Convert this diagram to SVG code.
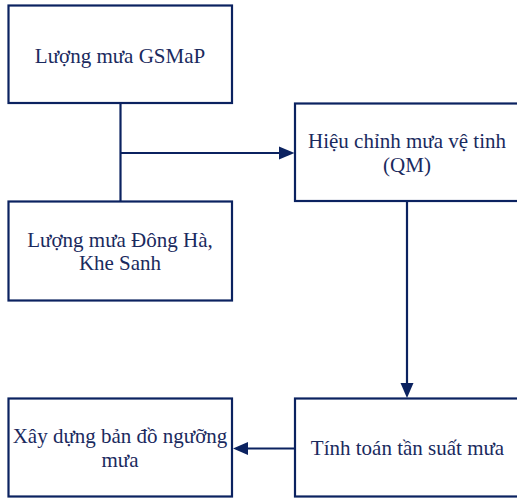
<svg xmlns="http://www.w3.org/2000/svg" width="517" height="499" viewBox="0 0 517 499">
<style>
.box{fill:#fff;stroke:#0b2260;stroke-width:2.2}
.ln{fill:none;stroke:#0b2260;stroke-width:2.2}
.ah{fill:#0b2260}
text{font-family:"Liberation Serif","Times New Roman",serif;font-size:21px;fill:#1a2a5e;text-anchor:middle}
</style>
<rect width="517" height="499" fill="#fff"/>
<g id="connectors">
<path class="ln" d="M120.5,103 V201"/>
<path class="ln" d="M120.5,153 H280"/>
<polygon class="ah" points="294.5,153 279,146.5 279,159.5"/>
<path class="ln" d="M407,201 V384"/>
<polygon class="ah" points="407,398 400.5,383 413.5,383"/>
<path class="ln" d="M295,448.5 H247"/>
<polygon class="ah" points="233,448.5 248,442 248,455"/>
</g>
<g id="gsmap">
<rect class="box" x="8.5" y="5.5" width="223.5" height="97.5"/>
<text x="120" y="62.5">Lượng mưa GSMaP</text>
</g>
<g id="station">
<rect class="box" x="8.5" y="201.5" width="223.5" height="99"/>
<text x="120" y="246.5">Lượng mưa Đông Hà,</text>
<text x="120" y="270">Khe Sanh</text>
</g>
<g id="qm">
<rect class="box" x="295" y="103.5" width="224" height="97.5"/>
<text x="407" y="148">Hiệu chỉnh mưa vệ tinh</text>
<text x="407" y="171.5">(QM)</text>
</g>
<g id="frequency">
<rect class="box" x="295" y="398.5" width="224" height="98"/>
<text x="407.5" y="455">Tính toán tần suất mưa</text>
</g>
<g id="threshold">
<rect class="box" x="8.5" y="398.5" width="223.5" height="98"/>
<text x="120" y="443">Xây dựng bản đồ ngưỡng</text>
<text x="120" y="466.5">mưa</text>
</g>
</svg>
